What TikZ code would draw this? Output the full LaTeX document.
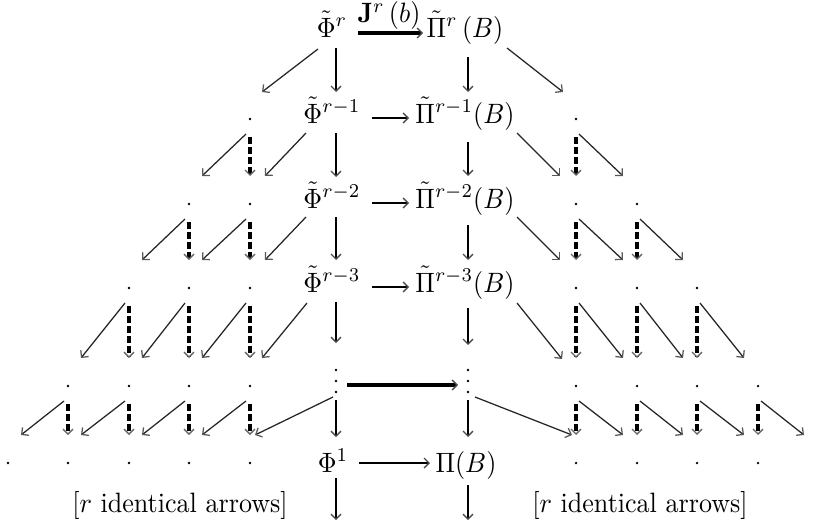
\documentclass[tikz,border=0pt]{standalone}
\usepackage{graphicx}
\usetikzlibrary{arrows.meta}
\newcommand{\hq}[1]{\scalebox{0.93}[1]{#1}}
\tikzset{
  lbl/.style={anchor=base, inner sep=0pt, outer sep=0pt},
  pt/.style={circle, fill=black, inner sep=0pt, minimum size=0.9pt},
  vert/.style={line width=0.7pt, -{Straight Barb[length=1.8pt,width=3.6pt,line width=0.45pt,color=black!70]}},
  hor/.style={line width=0.7pt, -{Straight Barb[length=1.8pt,width=3.6pt,line width=0.45pt,color=black!70]}},
  horthick/.style={line width=1.1pt, -{Straight Barb[length=1.8pt,width=3.6pt,line width=0.45pt,color=black!70]}},
  horthicker/.style={line width=1.4pt, -{Straight Barb[length=1.8pt,width=3.6pt,line width=0.45pt,color=black!70]}},
  diag/.style={line width=0.45pt, draw=black!85, -{Straight Barb[length=1.8pt,width=3.6pt,line width=0.45pt,color=black!65]}},
  dsh/.style={line width=1.2pt, dash pattern=on 2.4pt off 1.2pt, -{Straight Barb[length=1.8pt,width=3.6pt,line width=0.45pt,color=black!60]}}
}
\begin{document}
\begin{tikzpicture}[x=0.357pt,y=-0.357pt]
\useasboundingbox (0,0) rectangle (816,530);

% central column nodes
\node[lbl] (P0) at (332,37) {\hq{$\tilde\Phi^r$}};
\node[lbl] (Q0) at (465,37) {\hq{$\tilde\Pi^r\,(B)$}};
\node[lbl] (J) at (389,23) {\hq{$\mathbf{J}^r\,(b)$}};
\node[lbl] (P1) at (332,123) {\hq{$\tilde\Phi^{r-1}$}};
\node[lbl] (Q1) at (465,123) {\hq{$\tilde\Pi^{r-1}(B)$}};
\node[lbl] (P2) at (332,208) {\hq{$\tilde\Phi^{r-2}$}};
\node[lbl] (Q2) at (465,208) {\hq{$\tilde\Pi^{r-2}(B)$}};
\node[lbl] (P3) at (332,292) {\hq{$\tilde\Phi^{r-3}$}};
\node[lbl] (Q3) at (465,292) {\hq{$\tilde\Pi^{r-3}(B)$}};
\node[pt] (VLa) at (336,370) {};
\node[pt] (VL) at (336,381) {};
\node[pt] (VLb) at (336,392) {};
\node[pt] (VRa) at (468,370) {};
\node[pt] (VR) at (468,381) {};
\node[pt] (VRb) at (468,392) {};
\node[lbl] (P5) at (333,472) {\hq{$\Phi^1$}};
\node[lbl] (Q5) at (466,472) {\hq{$\Pi(B)$}};
\coordinate (PB) at (336,520);
\coordinate (QB) at (468,520);
\node[lbl] (LL) at (180,512) {\hq{[$r$ identical arrows]}};
\node[lbl] (LR) at (640,512) {\hq{[$r$ identical arrows]}};

% dots, left and right
\foreach \r/\y/\n in {1/119/1,2/204/2,3/288/3,4/386/4,5/463/5}{
  \foreach \c/\x in {1/250,2/189,3/129,4/68,5/8}{
    \ifnum\c>\n\relax\else\node[pt] (l\r\c) at (\x,\y) {};\fi
  }
}
\foreach \r/\y/\n in {1/119/1,2/204/2,3/288/3,4/386/4,5/463/4}{
  \foreach \c/\x in {1/576,2/637,3/697,4/758}{
    \ifnum\c>\n\relax\else\node[pt] (r\r\c) at (\x,\y) {};\fi
  }
}
\coordinate (r55) at (818,463);

% dot arrows
\foreach \r [evaluate=\r as \rn using int(\r+1)] in {1,...,4}{
  \foreach \c [evaluate=\c as \cn using int(\c+1)] in {1,...,\r}{
    \draw[dsh] ([shift={(0,18)}]l\r\c.center) -- ([shift={(0,-28)}]l\rn\c.center);
    \draw[diag] ([shift={(-4,15)}]l\r\c.center) -- ([shift={(13,-28)}]l\rn\cn.center);
    \draw[dsh] ([shift={(0,18)}]r\r\c.center) -- ([shift={(0,-28)}]r\rn\c.center);
    \draw[diag] ([shift={(3,15)}]r\r\c.center) -- ([shift={(-14,-28)}]r\rn\cn.center);
  }
}

% vertical arrows, Phi column
\draw[vert] ([shift={(4,11)}]P0.base) -- ([shift={(4,-31)}]P1.base);
\draw[vert] ([shift={(4,10)}]P1.base) -- ([shift={(4,-31)}]P2.base);
\draw[vert] ([shift={(4,9)}]P2.base) -- ([shift={(4,-32)}]P3.base);
\draw[vert] ([shift={(4,10)}]P3.base) -- ([shift={(0,-38)}]VL.center);
\draw[vert] ([shift={(0,19)}]VL.center) -- ([shift={(3,-35)}]P5.base);
\draw[vert] ([shift={(3,6)}]P5.base) -- (PB);

% vertical arrows, Pi column
\draw[vert] ([shift={(3,20)}]Q0.base) -- ([shift={(3,-31)}]Q1.base);
\draw[vert] ([shift={(3,19)}]Q1.base) -- ([shift={(3,-32)}]Q2.base);
\draw[vert] ([shift={(3,17)}]Q2.base) -- ([shift={(3,-32)}]Q3.base);
\draw[vert] ([shift={(3,16)}]Q3.base) -- ([shift={(0,-36)}]VR.center);
\draw[vert] ([shift={(0,19)}]VR.center) -- ([shift={(2,-35)}]Q5.base);
\draw[vert] ([shift={(2,13)}]Q5.base) -- (QB);

% horizontal arrows
\draw[horthick] ([shift={(26,-4)}]P0.base) -- ([shift={(-42,-4)}]Q0.base);
\draw[hor] ([shift={(40,-5)}]P1.base) -- ([shift={(-56,-5)}]Q1.base);
\draw[hor] ([shift={(40,-5)}]P2.base) -- ([shift={(-56,-5)}]Q2.base);
\draw[hor] ([shift={(40,-5)}]P3.base) -- ([shift={(-56,-5)}]Q3.base);
\draw[horthicker] ([shift={(11,4)}]VL.center) -- ([shift={(-10,4)}]VR.center);
\draw[hor] ([shift={(26,-9)}]P5.base) -- ([shift={(-36,-9)}]Q5.base);

% diagonals from the central nodes
\draw[diag] ([shift={(-14,12)}]P0.base) -- ([shift={(12,-27)}]l11.center);
\draw[diag] ([shift={(-26,10)}]P1.base) -- ([shift={(15,-28)}]l21.center);
\draw[diag] ([shift={(-26,9)}]P2.base) -- ([shift={(15,-28)}]l31.center);
\draw[diag] ([shift={(-25,11)}]P3.base) -- ([shift={(12,-28)}]l41.center);
\draw[diag] ([shift={(-3,16)}]VL.center) -- ([shift={(5,-28)}]l51.center);
\draw[diag] ([shift={(42,11)}]Q0.base) -- ([shift={(-13,-27)}]r11.center);
\draw[diag] ([shift={(52,10)}]Q1.base) -- ([shift={(-16,-28)}]r21.center);
\draw[diag] ([shift={(52,9)}]Q2.base) -- ([shift={(-16,-28)}]r31.center);
\draw[diag] ([shift={(52,11)}]Q3.base) -- ([shift={(-14,-27)}]r41.center);
\draw[diag] ([shift={(7,16)}]VR.center) -- ([shift={(-4,-28)}]r51.center);
\end{tikzpicture}
\end{document}
